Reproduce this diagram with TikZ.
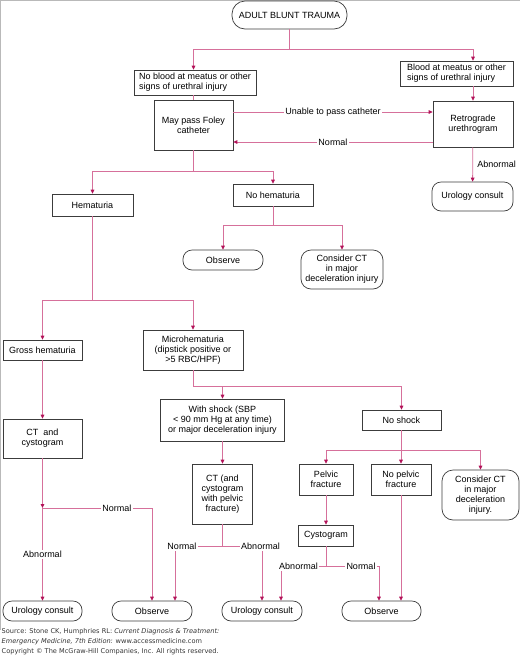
\documentclass[tikz,border=0pt]{standalone}
\usepackage{fontspec}
\setmainfont{Liberation Sans}
\newfontfamily\srcfont{DejaVu Sans}
\usetikzlibrary{arrows.meta}
\definecolor{linkpink}{RGB}{214,112,155}
\definecolor{tippink}{RGB}{178,18,88}
\definecolor{boxgray}{RGB}{60,60,60}

\begin{document}
\begin{tikzpicture}[x=1pt,y=-1pt,
  font=\fontsize{9}{10}\selectfont,
  box/.style={draw=boxgray,line width=0.7pt,fill=white,align=center,inner sep=1pt},
  term/.style={box,rounded corners=9pt},
  link/.style={draw=linkpink,line width=0.8pt},
  arr/.style={link,-{Triangle[length=4pt,width=3.6pt,color=tippink]}},
  lbl/.style={fill=white,inner sep=1.5pt}]
  \useasboundingbox (0,0) rectangle (520,657);
  % Frame
  \draw[gray!55,line width=0.8pt] (0.8,630) -- (0.8,0.8) -- (520,0.8);
  % Top of the tree
  \node[term,rounded corners=13pt,minimum width=115pt,minimum height=28pt] (trauma) at (289.5,15) {ADULT BLUNT TRAUMA};
  \node[box,align=left,minimum width=122pt,minimum height=25pt] (noblood) at (195,82.5) {No blood at meatus or other\\signs of urethral injury};
  \node[box,align=left,minimum width=113pt,minimum height=25pt] (blood) at (456.5,73.5) {Blood at meatus or other\\signs of urethral injury};
  \node[box,minimum width=79pt,minimum height=50pt] (foley) at (193.5,125) {May pass Foley\\catheter};
  \node[box,minimum width=80pt,minimum height=46pt] (retro) at (473,124) {Retrograde\\urethrogram};
  \node[term,minimum width=81pt,minimum height=29pt] (urol1) at (472.5,196.5) {Urology consult};
  % Hematuria or not
  \node[box,minimum width=81pt,minimum height=22pt] (hema) at (92.5,205) {Hematuria};
  \node[box,minimum width=80pt,minimum height=22pt] (nohema) at (273,195) {No hematuria};
  \node[term,minimum width=80pt,minimum height=20pt] (obs1) at (223,260) {Observe};
  \node[term,rounded corners=10pt,minimum width=82pt,minimum height=39pt] (ctdecel1) at (342,269.5) {Consider CT\\in major\\deceleration injury};
  \node[box,minimum width=79pt,minimum height=20pt] (gross) at (42.5,350) {Gross hematuria};
  \node[box,minimum width=100pt,minimum height=40pt] (micro) at (193,350) {Microhematuria\\(dipstick positive or\\>5 RBC/HPF)};
  \node[box,minimum width=124pt,minimum height=42pt] (shock) at (222.5,420) {With shock (SBP\\< 90 mm Hg at any time)\\or major deceleration injury};
  \node[box,minimum width=79pt,minimum height=20pt] (noshock) at (401.5,420) {No shock};
  \node[box,minimum width=79pt,minimum height=39pt] (ctcysto) at (42.5,438.5) {CT~ and\\cystogram};
  \node[box,minimum width=60pt,minimum height=60pt] (ctpelvic) at (222.5,494) {CT (and\\cystogram\\with pelvic\\fracture)};
  \node[box,minimum width=54pt,minimum height=31pt] (pelvic) at (326,479.5) {Pelvic\\fracture};
  \node[box,minimum width=60pt,minimum height=31pt] (nopelvic) at (401,479.5) {No pelvic\\fracture};
  \node[term,rounded corners=11pt,minimum width=77pt,minimum height=50pt] (ctdecel2) at (480.5,495) {Consider CT\\in major\\deceleration\\injury.};
  \node[box,minimum width=55pt,minimum height=21pt] (cysto) at (326,535.5) {Cystogram};
  % Outcomes at the bottom
  \node[term,minimum width=79pt,minimum height=20pt] (urol2) at (42.5,611) {Urology consult};
  \node[term,minimum width=80pt,minimum height=20pt] (obs2) at (152,611) {Observe};
  \node[term,minimum width=80pt,minimum height=20pt] (urol3) at (262,611) {Urology consult};
  \node[term,minimum width=79pt,minimum height=20pt] (obs3) at (381.5,611) {Observe};
  % Junctions
  \coordinate (j1) at (289.5,49);
  \coordinate (j2) at (193.5,171);
  \coordinate (j3) at (273,225);
  \coordinate (j4) at (92.5,300);
  \coordinate (j5) at (193,386);
  \coordinate (j6) at (401.5,450);
  \coordinate (c1) at (42.5,508);
  \coordinate (c2) at (222.5,546);
  \coordinate (c3) at (326,566);
  \coordinate (u) at (0,112);
  \coordinate (n) at (0,142);
  % Connectors
  \draw[link] (trauma) -- (j1);
  \draw[arr] (j1) -| (foley |- noblood.north);
  \draw[arr] (j1) -| (retro |- blood.north);
  \draw[link] (foley |- noblood.south) -- (foley);
  \draw[arr] (retro |- blood.south) -- (retro);
  \draw[arr] (foley.east |- u) -- node[lbl] (unable) {Unable to pass catheter} (retro.west |- u);
  \draw[arr] (retro.west |- n) -- node[lbl] (normal1) {Normal} (foley.east |- n);
  \draw[arr] (retro) -- node[right,xshift=1pt] (abn1) {Abnormal} (urol1);
  \draw[link] (foley) -- (j2);
  \draw[arr] (j2) -| (hema);
  \draw[arr] (j2) -| (nohema);
  \draw[link] (nohema) -- (j3);
  \draw[arr] (j3) -| (obs1);
  \draw[arr] (j3) -| (ctdecel1);
  \draw[link] (hema) -- (j4);
  \draw[arr] (j4) -| (gross);
  \draw[arr] (j4) -| (micro);
  \draw[link] (micro) -- (j5);
  \draw[arr] (j5) -| (shock);
  \draw[arr] (j5) -| (noshock);
  \draw[arr] (gross) -- (ctcysto);
  \draw[link] (noshock) -- (j6);
  \draw[arr] (j6) -| (pelvic);
  \draw[arr] (j6) -| (nopelvic);
  \draw[arr] (j6) -| (ctdecel2);
  \draw[arr] (shock) -- (ctpelvic);
  \draw[arr] (pelvic) -- (cysto);
  \draw[arr] (nopelvic) -- (nopelvic |- obs3.north);
  % CT and cystogram outcomes
  \draw[arr] (ctcysto) -- (c1);
  \draw[arr] (c1) -| node[lbl,pos=0.34] (normal2) {Normal} (obs2);
  \draw[arr] (c1) -- node[lbl] (abn2) {Abnormal} (urol2);
  % CT (and cystogram) outcomes
  \node[lbl] (normal3) at (182,546) {Normal};
  \node[lbl] (abn3) at (260.5,546) {Abnormal};
  \draw[link] (ctpelvic) -- (c2);
  \draw[link] (c2) -- (normal3);
  \draw[link] (c2) -- (abn3);
  \draw[arr] ([xshift=-7pt]normal3.south) -- ([xshift=-7pt]normal3.south |- obs2.north);
  \draw[arr] (abn3.south -| urol3) -- (urol3);
  % Cystogram outcomes
  \node[lbl] (abn4) at (298.5,566) {Abnormal};
  \node[lbl] (normal4) at (361,566) {Normal};
  \draw[link] (cysto) -- (c3);
  \draw[link] (c3) -- (abn4);
  \draw[link] (c3) -- (normal4);
  \draw[arr] (normal4.east) -| ([xshift=-2.5pt]obs3.north);
  \draw[arr] ([xshift=-17.5pt]abn4.south) -- ([xshift=-17.5pt]abn4.south |- urol3.north);
  % Source line
  \node[anchor=north west,align=left,inner sep=0pt,text=black!80,
    font=\srcfont\fontsize{6.6}{9.5}\selectfont] (source) at (1.5,628.5)
    {Source: Stone CK, Humphries RL: \textit{Current Diagnosis \& Treatment:}\\
     \textit{Emergency Medicine, 7th Edition:} www.accessmedicine.com\\[0.5pt]
     Copyright \textcopyright{} The McGraw-Hill Companies, Inc. All rights reserved.};
\end{tikzpicture}
\end{document}
